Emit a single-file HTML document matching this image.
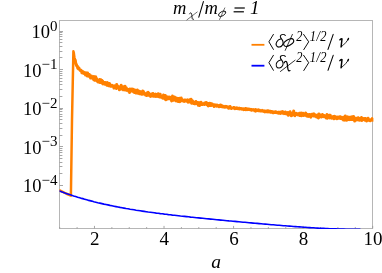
<!DOCTYPE html>
<html><head><meta charset="utf-8"><title>plot</title>
<style>
html,body{margin:0;padding:0;background:#fff;}
body{width:382px;height:273px;overflow:hidden;font-family:"Liberation Serif",serif;}
svg{display:block;transform:translateZ(0);will-change:transform;}
text{font-family:"Liberation Serif",serif;fill:#000;}
.n{font-size:18.5px;}
.nx{font-size:19px;}
.sup{font-size:15px;}
.i{font-style:italic;font-size:18.5px;}
.is{font-style:italic;font-size:14.5px;}
.ih{font-style:italic;font-size:14.5px;letter-spacing:0.5px;}
.ts{font-style:italic;font-size:13px;}
</style></head>
<body>
<svg width="382" height="273" viewBox="0 0 382 273">
<rect x="0" y="0" width="382" height="273" fill="#fff"/>
<defs><clipPath id="c"><rect x="59.5" y="20.5" width="313.9" height="208.6"/></clipPath></defs>
<rect x="59.5" y="20.5" width="313.0" height="208.0" fill="none" stroke="#b6b6b6" stroke-width="1"/>
<g stroke="#969696" stroke-width="0.85"><line x1="59.50" y1="31.50" x2="63.00" y2="31.50"/><line x1="59.50" y1="57.50" x2="62.40" y2="57.50"/><line x1="59.50" y1="51.50" x2="62.40" y2="51.50"/><line x1="59.50" y1="46.50" x2="62.40" y2="46.50"/><line x1="59.50" y1="42.50" x2="62.40" y2="42.50"/><line x1="59.50" y1="39.50" x2="62.40" y2="39.50"/><line x1="59.50" y1="36.50" x2="62.40" y2="36.50"/><line x1="59.50" y1="34.50" x2="62.40" y2="34.50"/><line x1="59.50" y1="32.50" x2="62.40" y2="32.50"/><line x1="59.50" y1="69.50" x2="63.00" y2="69.50"/><line x1="59.50" y1="96.50" x2="62.40" y2="96.50"/><line x1="59.50" y1="89.50" x2="62.40" y2="89.50"/><line x1="59.50" y1="84.50" x2="62.40" y2="84.50"/><line x1="59.50" y1="81.50" x2="62.40" y2="81.50"/><line x1="59.50" y1="78.50" x2="62.40" y2="78.50"/><line x1="59.50" y1="75.50" x2="62.40" y2="75.50"/><line x1="59.50" y1="73.50" x2="62.40" y2="73.50"/><line x1="59.50" y1="71.50" x2="62.40" y2="71.50"/><line x1="59.50" y1="108.50" x2="63.00" y2="108.50"/><line x1="59.50" y1="135.50" x2="62.40" y2="135.50"/><line x1="59.50" y1="128.50" x2="62.40" y2="128.50"/><line x1="59.50" y1="123.50" x2="62.40" y2="123.50"/><line x1="59.50" y1="119.50" x2="62.40" y2="119.50"/><line x1="59.50" y1="116.50" x2="62.40" y2="116.50"/><line x1="59.50" y1="114.50" x2="62.40" y2="114.50"/><line x1="59.50" y1="111.50" x2="62.40" y2="111.50"/><line x1="59.50" y1="109.50" x2="62.40" y2="109.50"/><line x1="59.50" y1="146.50" x2="63.00" y2="146.50"/><line x1="59.50" y1="173.50" x2="62.40" y2="173.50"/><line x1="59.50" y1="166.50" x2="62.40" y2="166.50"/><line x1="59.50" y1="162.50" x2="62.40" y2="162.50"/><line x1="59.50" y1="158.50" x2="62.40" y2="158.50"/><line x1="59.50" y1="155.50" x2="62.40" y2="155.50"/><line x1="59.50" y1="152.50" x2="62.40" y2="152.50"/><line x1="59.50" y1="150.50" x2="62.40" y2="150.50"/><line x1="59.50" y1="148.50" x2="62.40" y2="148.50"/><line x1="59.50" y1="185.50" x2="63.00" y2="185.50"/><line x1="59.70" y1="228.50" x2="59.70" y2="227.10"/><line x1="77.09" y1="228.50" x2="77.09" y2="227.10"/><line x1="94.48" y1="228.50" x2="94.48" y2="225.90"/><line x1="111.87" y1="228.50" x2="111.87" y2="227.10"/><line x1="129.26" y1="228.50" x2="129.26" y2="227.10"/><line x1="146.64" y1="228.50" x2="146.64" y2="227.10"/><line x1="164.03" y1="228.50" x2="164.03" y2="225.90"/><line x1="181.42" y1="228.50" x2="181.42" y2="227.10"/><line x1="198.81" y1="228.50" x2="198.81" y2="227.10"/><line x1="216.20" y1="228.50" x2="216.20" y2="227.10"/><line x1="233.59" y1="228.50" x2="233.59" y2="225.90"/><line x1="250.98" y1="228.50" x2="250.98" y2="227.10"/><line x1="268.37" y1="228.50" x2="268.37" y2="227.10"/><line x1="285.76" y1="228.50" x2="285.76" y2="227.10"/><line x1="303.14" y1="228.50" x2="303.14" y2="225.90"/><line x1="320.53" y1="228.50" x2="320.53" y2="227.10"/><line x1="337.92" y1="228.50" x2="337.92" y2="227.10"/><line x1="355.31" y1="228.50" x2="355.31" y2="227.10"/><line x1="372.70" y1="228.50" x2="372.70" y2="225.90"/></g>
<g clip-path="url(#c)" fill="none" stroke-linejoin="round" stroke-linecap="round">
<path d="M59.3,190.2 L66.0,193.5 L70.9,195.7 L72.0,120.0 L73.4,51.2 L73.8,52.7 L74.1,55.1 L74.4,57.2 L74.7,58.7 L75.0,59.8 L75.3,61.1 L75.6,62.7 L75.9,63.7 L76.2,64.7 L76.5,65.1 L76.8,65.8" stroke="#ff8000" stroke-width="2.5"/>
<path d="M75.0,59.8 L75.3,61.1 L75.6,62.7 L75.9,63.7 L76.2,64.7 L76.5,65.1 L76.8,65.8 L77.1,66.4 L77.4,66.3 L77.7,67.9 L78.0,68.4 L78.3,68.7 L78.6,67.8 L78.9,68.0 L79.2,68.7 L79.5,69.2 L79.8,69.9 L80.1,69.9 L80.4,70.5 L80.7,70.0 L81.0,70.9 L81.3,71.2 L81.6,70.7 L81.9,72.7 L82.2,72.1 L82.5,72.9 L82.8,71.6 L83.1,71.7 L83.4,72.2 L83.7,72.6 L84.0,73.5 L84.3,73.3 L84.6,72.8 L84.9,72.5 L85.2,73.1 L85.5,74.9 L85.8,73.1 L86.1,74.3 L86.4,74.6 L86.7,73.0 L87.0,74.6 L87.3,76.0 L87.6,73.0 L87.9,74.8 L88.2,75.1 L88.5,74.6 L88.8,76.1 L89.1,75.7 L89.4,74.5 L89.7,76.9 L90.0,76.9 L90.3,77.4 L90.6,78.0 L90.9,77.2 L91.2,77.1 L91.5,76.0 L91.8,78.0 L92.1,77.0 L92.4,77.3 L92.7,76.7 L93.0,77.2 L93.3,77.7 L93.6,79.6 L93.9,76.6 L94.2,77.3 L94.5,79.0 L94.8,80.3 L95.1,79.6 L95.4,77.4 L95.7,76.9 L96.0,79.8 L96.3,78.9 L96.6,78.7 L96.9,80.8 L97.2,81.1 L97.5,80.3 L97.8,80.5 L98.1,80.8 L98.4,82.1 L98.7,81.3 L99.0,81.3 L99.3,81.5 L99.6,79.6 L99.9,82.5 L100.2,82.3 L100.5,82.0 L100.8,79.7 L101.1,81.1 L101.4,82.6 L101.7,80.2 L102.0,81.8 L102.3,83.1 L102.6,81.0 L102.9,83.9 L103.2,83.0 L103.5,82.4 L103.8,83.0 L104.1,83.4 L104.4,83.0 L104.7,84.1 L105.0,82.4 L105.3,82.8 L105.6,84.3 L105.9,83.4 L106.2,82.7 L106.5,84.5 L106.8,85.1 L107.1,83.4 L107.4,82.6 L107.7,83.9 L108.0,84.0 L108.3,84.0 L108.6,85.7 L108.9,83.5 L109.2,85.8 L109.5,83.5 L109.8,84.0 L110.1,85.5 L110.4,86.1 L110.7,85.9 L111.0,85.5 L111.3,85.4 L111.6,85.5 L111.9,86.1 L112.2,85.4 L112.5,86.0 L112.8,86.4 L113.1,85.9 L113.4,86.7 L113.7,86.6 L114.0,88.1 L114.3,86.5 L114.6,85.9 L114.9,86.0 L115.2,86.4 L115.5,87.4 L115.8,86.3 L116.1,87.0 L116.4,88.5 L116.7,84.4 L117.0,85.8 L117.3,87.2 L117.6,87.4 L117.9,87.3 L118.2,86.7 L118.5,87.8 L118.8,87.6 L119.1,86.9 L119.4,89.8 L119.7,87.9 L120.0,87.1 L120.3,87.6 L120.6,87.5 L120.9,87.7 L121.2,85.3 L121.5,87.5 L121.8,89.0 L122.1,87.0 L122.4,88.1 L122.7,89.1 L123.0,89.1 L123.3,89.8 L123.6,86.8 L123.9,88.2 L124.2,88.3 L124.5,89.3 L124.8,89.8 L125.1,86.3 L125.4,89.9 L125.7,87.6 L126.0,89.7 L126.3,87.7 L126.6,89.3 L126.9,90.4 L127.2,89.2 L127.5,89.6 L127.8,90.2 L128.1,89.7 L128.4,89.5 L128.7,91.1 L129.0,90.8 L129.3,89.6 L129.6,92.5 L129.9,88.9 L130.2,90.9 L130.5,89.9 L130.8,90.3 L131.1,90.9 L131.4,90.5 L131.7,91.0 L132.0,89.0 L132.3,89.1 L132.6,91.2 L132.9,89.8 L133.2,89.8 L133.5,89.4 L133.8,92.1 L134.1,91.7 L134.4,92.5 L134.7,90.2 L135.0,91.2 L135.3,90.2 L135.6,92.1 L135.9,92.9 L136.2,90.6 L136.5,93.0 L136.8,92.6 L137.1,91.5 L137.4,89.9 L137.7,93.2 L138.0,91.8 L138.3,91.4 L138.6,92.5 L138.9,92.5 L139.2,93.6 L139.5,91.3 L139.8,93.4 L140.1,93.8 L140.4,93.9 L140.7,92.4 L141.0,91.9 L141.3,93.7 L141.6,92.9 L141.9,93.0 L142.2,94.3 L142.5,92.8 L142.8,90.9 L143.1,92.8 L143.4,91.5 L143.7,94.1 L144.0,93.7 L144.3,92.9 L144.6,93.5 L144.9,94.4 L145.2,93.7 L145.5,95.0 L145.8,93.7 L146.1,94.9 L146.4,95.4 L146.7,95.5 L147.0,93.4 L147.3,95.0 L147.6,92.4 L147.9,93.2 L148.2,92.4 L148.5,95.3 L148.8,93.2 L149.1,94.4 L149.4,94.3 L149.7,94.5 L150.0,94.0 L150.3,94.9 L150.6,96.4 L150.9,94.8 L151.2,95.3 L151.5,95.8 L151.8,94.7 L152.1,93.8 L152.4,94.5 L152.7,96.1 L153.0,93.6 L153.3,94.6 L153.6,96.2 L153.9,96.0 L154.2,95.3 L154.5,96.2 L154.8,95.6 L155.1,94.4 L155.4,94.1 L155.7,95.0 L156.0,96.5 L156.3,95.2 L156.6,94.9 L156.9,95.1 L157.2,94.4 L157.5,95.8 L157.8,94.8 L158.1,96.4 L158.4,93.8 L158.7,96.4 L159.0,95.6 L159.3,94.4 L159.6,97.0 L159.9,96.1 L160.2,94.3 L160.5,95.6 L160.8,96.8 L161.1,96.1 L161.4,97.3 L161.7,97.4 L162.0,97.3 L162.3,97.1 L162.6,98.1 L162.9,97.5 L163.2,97.3 L163.5,95.0 L163.8,97.9 L164.1,98.3 L164.4,96.8 L164.7,96.7 L165.0,99.1 L165.3,95.6 L165.6,97.8 L165.9,99.7 L166.2,96.6 L166.5,98.2 L166.8,99.3 L167.1,97.5 L167.4,98.2 L167.7,98.6 L168.0,96.9 L168.3,97.7 L168.6,98.1 L168.9,98.7 L169.2,97.9 L169.5,97.8 L169.8,97.1 L170.1,97.8 L170.4,99.0 L170.7,98.3 L171.0,97.5 L171.3,97.5 L171.6,100.9 L171.9,99.5 L172.2,99.1 L172.5,96.1 L172.8,99.2 L173.1,99.1 L173.4,100.3 L173.7,99.2 L174.0,98.8 L174.3,99.4 L174.6,97.1 L174.9,100.0 L175.2,99.3 L175.5,98.4 L175.8,100.4 L176.1,100.9 L176.4,97.9 L176.7,98.7 L177.0,99.6 L177.3,99.6 L177.6,99.1 L177.9,98.6 L178.2,101.6 L178.5,100.6 L178.8,98.5 L179.1,98.4 L179.4,101.4 L179.7,100.8 L180.0,101.6 L180.3,100.7 L180.6,99.1 L180.9,100.3 L181.2,98.0 L181.5,99.4 L181.8,100.1 L182.1,100.7 L182.4,99.6 L182.7,100.2 L183.0,100.8 L183.3,100.8 L183.6,101.1 L183.9,100.7 L184.2,100.3 L184.5,101.4 L184.8,100.7 L185.1,100.0 L185.4,100.2 L185.7,100.8 L186.0,100.8 L186.3,101.1 L186.6,101.0 L186.9,101.2 L187.2,101.0 L187.5,99.9 L187.8,101.6 L188.1,102.2 L188.4,101.7 L188.7,101.1 L189.0,101.8 L189.3,100.5 L189.6,99.7 L189.9,101.6 L190.2,100.7 L190.5,102.3 L190.8,100.6 L191.1,99.2 L191.4,100.8 L191.7,103.3 L192.0,101.5 L192.3,100.6 L192.6,101.2 L192.9,102.5 L193.2,102.5 L193.5,102.3 L193.8,103.6 L194.1,102.9 L194.4,102.2 L194.7,102.9 L195.0,103.9 L195.3,103.3 L195.6,103.4 L195.9,101.5 L196.2,102.4 L196.5,103.3 L196.8,102.4 L197.1,103.7 L197.4,103.3 L197.7,103.6 L198.0,102.6 L198.3,105.3 L198.6,104.1 L198.9,102.8 L199.2,103.1 L199.5,105.5 L199.8,102.8 L200.1,104.0 L200.4,104.1 L200.7,103.3 L201.0,102.2 L201.3,103.5 L201.6,103.7 L201.9,104.5 L202.2,104.2 L202.5,103.6 L202.8,104.4 L203.1,104.1 L203.4,103.9 L203.7,103.8 L204.0,103.6 L204.3,104.5 L204.6,103.0 L204.9,103.4 L205.2,104.0 L205.5,102.8 L205.8,103.7 L206.1,102.5 L206.4,103.6 L206.7,104.7 L207.0,104.8 L207.3,104.3 L207.6,104.2 L207.9,103.3 L208.2,105.9 L208.5,104.9 L208.8,105.4 L209.1,103.9 L209.4,104.5 L209.7,103.3 L210.0,105.4 L210.3,105.5 L210.6,103.4 L210.9,104.9 L211.2,105.4 L211.5,103.7 L211.8,103.7 L212.1,104.3 L212.4,104.7 L212.7,104.2 L213.0,105.3 L213.3,105.5 L213.6,105.8 L213.9,105.9 L214.2,106.5 L214.5,106.3 L214.8,104.7 L215.1,105.3 L215.4,105.0 L215.7,105.0 L216.0,105.7 L216.3,105.8 L216.6,106.2 L216.9,104.9 L217.2,105.2 L217.5,106.0 L217.8,105.9 L218.1,105.9 L218.4,106.1 L218.7,105.7 L219.0,106.7 L219.3,106.5 L219.6,106.3 L219.9,106.0 L220.2,106.3 L220.5,104.9 L220.8,105.9 L221.1,106.5 L221.4,105.7 L221.7,106.7 L222.0,106.7 L222.3,105.9 L222.6,106.5 L222.9,106.5 L223.2,107.0 L223.5,107.1 L223.8,106.8 L224.1,106.4 L224.4,106.8 L224.7,106.9 L225.0,107.3 L225.3,107.1 L225.6,106.7 L225.9,106.4 L226.2,106.9 L226.5,106.8 L226.8,106.6 L227.1,107.1 L227.4,107.0 L227.7,107.3 L228.0,107.5 L228.3,107.1 L228.6,108.3 L228.9,107.2 L229.2,107.8 L229.5,107.5 L229.8,107.9 L230.1,106.5 L230.4,107.2 L230.7,107.6 L231.0,107.8 L231.3,108.5 L231.6,107.8 L231.9,108.1 L232.2,108.0 L232.5,108.1 L232.8,107.9 L233.1,107.7 L233.4,108.0 L233.7,107.5 L234.0,108.3 L234.3,107.6 L234.6,108.0 L234.9,108.6 L235.2,108.0 L235.5,108.1 L235.8,108.4 L236.1,108.1 L236.4,107.9 L236.7,108.3 L237.0,108.4 L237.3,108.5 L237.6,108.0 L237.9,108.8 L238.2,108.8 L238.5,108.4 L238.8,108.5 L239.1,108.3 L239.4,108.9 L239.7,108.3 L240.0,108.7 L240.3,108.4 L240.6,108.4 L240.9,108.9 L241.2,109.1 L241.5,108.7 L241.8,108.5 L242.1,109.0 L242.4,108.8 L242.7,108.9 L243.0,109.3 L243.3,109.2 L243.6,108.8 L243.9,109.7 L244.2,109.0 L244.5,109.3 L244.8,108.8 L245.1,109.1 L245.4,108.6 L245.7,109.7 L246.0,109.6 L246.3,108.8 L246.6,108.8 L246.9,108.8 L247.2,109.7 L247.5,109.2 L247.8,109.3 L248.1,109.3 L248.4,109.4 L248.7,109.1 L249.0,109.5 L249.3,109.1 L249.6,109.5 L249.9,109.7 L250.2,109.8 L250.5,109.6 L250.8,109.4 L251.1,109.8 L251.4,109.6 L251.7,110.3 L252.0,110.1 L252.3,109.8 L252.6,109.7 L252.9,109.7 L253.2,109.6 L253.5,109.9 L253.8,110.1 L254.1,110.2 L254.4,110.2 L254.7,110.8 L255.0,109.9 L255.3,110.2 L255.6,111.1 L255.9,109.6 L256.2,110.1 L256.5,110.3 L256.8,110.4 L257.1,110.5 L257.4,110.3 L257.7,110.5 L258.0,110.5 L258.3,110.7 L258.6,109.9 L258.9,110.2 L259.2,110.6 L259.5,110.3 L259.8,110.3 L260.1,110.9 L260.4,110.5 L260.7,110.9 L261.0,111.0 L261.3,110.9 L261.6,111.0 L261.9,110.8 L262.2,110.4 L262.5,110.9 L262.8,111.1 L263.1,110.8 L263.4,111.0 L263.7,111.3 L264.0,110.8 L264.3,111.3 L264.6,111.8 L264.9,111.0 L265.2,111.2 L265.5,111.2 L265.8,111.8 L266.1,111.4 L266.4,111.6 L266.7,111.1 L267.0,111.4 L267.3,111.4 L267.6,110.8 L267.9,112.0 L268.2,111.8 L268.5,110.9 L268.8,111.8 L269.1,111.6 L269.4,111.8 L269.7,111.8 L270.0,111.2 L270.3,111.7 L270.6,112.3 L270.9,111.6 L271.2,111.5 L271.5,111.4 L271.8,111.5 L272.1,112.0 L272.4,112.5 L272.7,112.1 L273.0,112.1 L273.3,112.8 L273.6,111.9 L273.9,111.9 L274.2,112.3 L274.5,112.4 L274.8,111.9 L275.1,111.8 L275.4,112.4 L275.7,112.4 L276.0,111.8 L276.3,112.3 L276.6,112.2 L276.9,112.6 L277.2,112.4 L277.5,112.4 L277.8,112.3 L278.1,113.0 L278.4,113.2 L278.7,112.4 L279.0,113.0 L279.3,112.2 L279.6,112.7 L279.9,113.0 L280.2,113.5 L280.5,112.5 L280.8,112.7 L281.1,112.9 L281.4,111.9 L281.7,112.8 L282.0,112.4 L282.3,113.1 L282.6,112.2 L282.9,111.7 L283.2,112.9 L283.5,113.1 L283.8,112.6 L284.1,113.6 L284.4,112.8 L284.7,112.6 L285.0,113.4 L285.3,112.0 L285.6,112.6 L285.9,113.1 L286.2,113.8 L286.5,113.1 L286.8,113.4 L287.1,112.7 L287.4,113.5 L287.7,114.6 L288.0,112.8 L288.3,115.2 L288.6,112.8 L288.9,113.4 L289.2,113.5 L289.5,114.3 L289.8,112.4 L290.1,111.7 L290.4,114.0 L290.7,114.2 L291.0,114.1 L291.3,115.8 L291.6,113.8 L291.9,113.8 L292.2,114.4 L292.5,114.0 L292.8,115.1 L293.1,112.7 L293.4,113.4 L293.7,111.0 L294.0,114.5 L294.3,113.5 L294.6,114.6 L294.9,115.7 L295.2,113.9 L295.5,113.7 L295.8,113.5 L296.1,113.2 L296.4,113.4 L296.7,114.5 L297.0,114.1 L297.3,114.1 L297.6,113.9 L297.9,114.9 L298.2,114.5 L298.5,114.0 L298.8,114.7 L299.1,114.1 L299.4,113.2 L299.7,115.5 L300.0,114.7 L300.3,113.5 L300.6,115.2 L300.9,114.6 L301.2,113.0 L301.5,115.8 L301.8,114.7 L302.1,115.2 L302.4,114.6 L302.7,114.4 L303.0,113.2 L303.3,115.4 L303.6,114.6 L303.9,114.3 L304.2,114.9 L304.5,114.7 L304.8,115.2 L305.1,114.4 L305.4,114.7 L305.7,112.9 L306.0,114.4 L306.3,115.3 L306.6,115.9 L306.9,114.5 L307.2,114.7 L307.5,116.2 L307.8,114.6 L308.1,115.5 L308.4,116.4 L308.7,115.0 L309.0,116.0 L309.3,114.4 L309.6,115.2 L309.9,115.0 L310.2,115.2 L310.5,116.1 L310.8,117.2 L311.1,114.6 L311.4,114.7 L311.7,115.6 L312.0,114.3 L312.3,115.7 L312.6,115.8 L312.9,115.1 L313.2,115.8 L313.5,114.0 L313.8,116.0 L314.1,114.1 L314.4,114.8 L314.7,115.0 L315.0,115.1 L315.3,116.3 L315.6,115.6 L315.9,115.2 L316.2,116.1 L316.5,117.0 L316.8,115.7 L317.1,116.0 L317.4,116.8 L317.7,116.0 L318.0,114.7 L318.3,117.9 L318.6,117.7 L318.9,114.1 L319.2,115.8 L319.5,116.3 L319.8,116.8 L320.1,116.5 L320.4,115.7 L320.7,115.1 L321.0,116.1 L321.3,117.0 L321.6,115.1 L321.9,115.2 L322.2,116.1 L322.5,114.5 L322.8,116.0 L323.1,115.9 L323.4,116.7 L323.7,115.7 L324.0,115.6 L324.3,116.0 L324.6,116.3 L324.9,115.8 L325.2,116.4 L325.5,117.1 L325.8,117.5 L326.1,118.0 L326.4,115.9 L326.7,116.2 L327.0,114.4 L327.3,118.3 L327.6,116.0 L327.9,116.7 L328.2,117.2 L328.5,115.5 L328.8,117.2 L329.1,116.8 L329.4,115.2 L329.7,117.1 L330.0,117.9 L330.3,115.3 L330.6,117.6 L330.9,117.1 L331.2,117.4 L331.5,117.4 L331.8,118.2 L332.1,116.9 L332.4,117.9 L332.7,116.8 L333.0,117.8 L333.3,116.5 L333.6,117.1 L333.9,118.8 L334.2,117.7 L334.5,117.2 L334.8,116.3 L335.1,116.7 L335.4,117.5 L335.7,118.2 L336.0,117.8 L336.3,117.9 L336.6,117.4 L336.9,118.7 L337.2,117.2 L337.5,117.1 L337.8,118.4 L338.1,117.7 L338.4,117.4 L338.7,117.2 L339.0,117.5 L339.3,118.3 L339.6,118.1 L339.9,116.7 L340.2,118.2 L340.5,118.0 L340.8,117.0 L341.1,118.6 L341.4,117.7 L341.7,117.6 L342.0,118.6 L342.3,119.1 L342.6,117.4 L342.9,118.4 L343.2,117.3 L343.5,120.1 L343.8,117.6 L344.1,119.2 L344.4,117.6 L344.7,118.9 L345.0,120.1 L345.3,115.9 L345.6,117.8 L345.9,118.7 L346.2,118.2 L346.5,117.7 L346.8,120.2 L347.1,118.4 L347.4,116.9 L347.7,119.1 L348.0,116.9 L348.3,119.4 L348.6,117.9 L348.9,118.6 L349.2,119.6 L349.5,118.6 L349.8,117.3 L350.1,117.0 L350.4,119.6 L350.7,119.2 L351.0,117.9 L351.3,119.4 L351.6,119.1 L351.9,119.3 L352.2,116.7 L352.5,118.5 L352.8,119.5 L353.1,119.4 L353.4,119.6 L353.7,116.6 L354.0,119.0 L354.3,119.3 L354.6,121.1 L354.9,118.1 L355.2,118.6 L355.5,119.0 L355.8,119.8 L356.1,118.6 L356.4,120.0 L356.7,118.3 L357.0,119.3 L357.3,118.6 L357.6,119.2 L357.9,118.5 L358.2,117.7 L358.5,120.1 L358.8,119.5 L359.1,118.7 L359.4,119.4 L359.7,120.1 L360.0,118.4 L360.3,119.2 L360.6,119.8 L360.9,119.8 L361.2,119.1 L361.5,117.5 L361.8,120.5 L362.1,119.7 L362.4,119.5 L362.7,119.2 L363.0,119.7 L363.3,119.1 L363.6,118.6 L363.9,118.9 L364.2,119.1 L364.5,119.1 L364.8,118.6 L365.1,120.2 L365.4,118.5 L365.7,120.3 L366.0,118.8 L366.3,120.1 L366.6,121.0 L366.9,120.0 L367.2,119.2 L367.5,119.9 L367.8,120.0 L368.1,118.3 L368.4,119.4 L368.7,120.1 L369.0,119.5 L369.3,120.0 L369.6,120.6 L369.9,120.7 L370.2,120.8 L370.5,120.6 L370.8,119.8 L371.1,120.1 L371.4,119.9 L371.7,119.9 L372.0,120.0 L372.3,118.6 L372.6,119.9 L372.9,120.2 L373.2,119.4 L373.5,120.2" stroke="#ff8000" stroke-width="3"/>
<path d="M59.5,191.0 L61.5,191.7 L63.5,192.4 L65.6,193.2 L67.6,193.9 L69.6,194.6 L71.6,195.2 L73.6,195.9 L75.6,196.5 L77.7,197.2 L79.7,197.8 L81.7,198.4 L83.7,198.9 L85.7,199.5 L87.7,200.1 L89.8,200.6 L91.8,201.1 L93.8,201.7 L95.8,202.2 L97.8,202.7 L99.8,203.1 L101.9,203.6 L103.9,204.1 L105.9,204.5 L107.9,204.9 L109.9,205.4 L111.9,205.8 L114.0,206.2 L116.0,206.6 L118.0,207.0 L120.0,207.4 L122.0,207.7 L124.0,208.1 L126.1,208.5 L128.1,208.8 L130.1,209.2 L132.1,209.5 L134.1,209.8 L136.1,210.2 L138.2,210.5 L140.2,210.8 L142.2,211.1 L144.2,211.4 L146.2,211.7 L148.2,212.0 L150.3,212.2 L152.3,212.5 L154.3,212.8 L156.3,213.1 L158.3,213.3 L160.3,213.6 L162.4,213.8 L164.4,214.1 L166.4,214.3 L168.4,214.6 L170.4,214.8 L172.4,215.1 L174.5,215.3 L176.5,215.5 L178.5,215.7 L180.5,216.0 L182.5,216.2 L184.5,216.4 L186.6,216.6 L188.6,216.8 L190.6,217.1 L192.6,217.3 L194.6,217.5 L196.6,217.7 L198.7,217.9 L200.7,218.1 L202.7,218.3 L204.7,218.5 L206.7,218.7 L208.7,218.9 L210.8,219.1 L212.8,219.3 L214.8,219.5 L216.8,219.7 L218.8,219.9 L220.8,220.1 L222.9,220.3 L224.9,220.5 L226.9,220.7 L228.9,220.9 L230.9,221.0 L232.9,221.2 L235.0,221.4 L237.0,221.6 L239.0,221.8 L241.0,222.0 L243.0,222.2 L245.0,222.3 L247.1,222.5 L249.1,222.7 L251.1,222.9 L253.1,223.1 L255.1,223.3 L257.1,223.4 L259.2,223.6 L261.2,223.8 L263.2,224.0 L265.2,224.1 L267.2,224.3 L269.2,224.5 L271.3,224.7 L273.3,224.8 L275.3,225.0 L277.3,225.2 L279.3,225.3 L281.3,225.5 L283.4,225.7 L285.4,225.8 L287.4,226.0 L289.4,226.1 L291.4,226.3 L293.4,226.5 L295.5,226.6 L297.5,226.8 L299.5,226.9 L301.5,227.0 L303.5,227.2 L305.5,227.3 L307.6,227.5 L309.6,227.6 L311.6,227.7 L313.6,227.8 L315.6,228.0 L317.6,228.1 L319.7,228.2 L321.7,228.3 L323.7,228.4 L325.7,228.5 L327.7,228.6 L329.7,228.7 L331.8,228.8 L333.8,228.8 L335.8,228.9 L337.8,229.0 L339.8,229.0 L341.8,229.1 L343.9,229.1 L345.9,229.2 L347.9,229.2 L349.9,229.2 L351.9,229.3 L353.9,229.3 L356.0,229.3 L358.0,229.3 L360.0,229.3" stroke="#0000ff" stroke-width="1.6"/>
</g>
<text x="57.5" y="38.0" text-anchor="end" class="n">10<tspan class="sup" dy="-7.5">0</tspan></text><text x="57.5" y="76.6" text-anchor="end" class="n">10<tspan class="sup" dy="-7.5">−1</tspan></text><text x="57.5" y="115.2" text-anchor="end" class="n">10<tspan class="sup" dy="-7.5">−2</tspan></text><text x="57.5" y="153.8" text-anchor="end" class="n">10<tspan class="sup" dy="-7.5">−3</tspan></text><text x="57.5" y="192.4" text-anchor="end" class="n">10<tspan class="sup" dy="-7.5">−4</tspan></text>
<text x="94.8" y="245" text-anchor="middle" class="nx">2</text><text x="164.3" y="245" text-anchor="middle" class="nx">4</text><text x="233.9" y="245" text-anchor="middle" class="nx">6</text><text x="303.4" y="245" text-anchor="middle" class="nx">8</text><text x="373.0" y="245" text-anchor="middle" class="nx">10</text>
<text x="216" y="268.1" text-anchor="middle" class="i" style="font-size:19.5px">a</text>
<!-- title -->
<text x="173" y="14.1" class="i">m</text>
<g transform="translate(186.9,19.9) scale(0.70) translate(-280.4,-71.5)" fill="none" stroke="#000" stroke-linecap="round" stroke-linejoin="round">
<line x1="280.4" y1="71.5" x2="295.1" y2="60.2" stroke-width="0.8"/>
<path d="M284.2,62.8 C284.7,61.4 286,61 286.7,62 C287.6,63.4 287.5,67 287.9,69 C288.2,70.7 289,71.4 290,70.6" stroke-width="1.25"/>
</g>
<line x1="198.8" y1="17.2" x2="203.4" y2="1.6" stroke="#000" stroke-width="1.05" stroke-linecap="round"/>
<text x="204.4" y="14.1" class="i">m</text>
<g transform="translate(222.1,13.8) scale(0.72) translate(-288.7,-42.55)" fill="none" stroke="#000" stroke-linecap="round" stroke-linejoin="round">
<ellipse cx="288.7" cy="42.55" rx="5.5" ry="2.9" transform="rotate(-30 288.7 42.55)" stroke-width="1.1"/>
<line x1="292.4" y1="34.4" x2="285.2" y2="50.4" stroke-width="0.8"/>
</g>
<g stroke="#000" stroke-width="1.2"><line x1="234.5" y1="8" x2="244.8" y2="8"/><line x1="233.6" y1="11.8" x2="243.9" y2="11.8"/></g>
<text x="250.0" y="14.3" class="i" style="font-size:19px">1</text>
<!-- legend -->
<line x1="251.5" y1="44.8" x2="264.4" y2="44.8" stroke="#ff8000" stroke-width="1.8"/>
<line x1="251.5" y1="65.7" x2="264.4" y2="65.7" stroke="#0000ff" stroke-width="1.8"/>
<g fill="none" stroke="#000" stroke-linecap="round" stroke-linejoin="round">
<polyline points="273.4,34.4 268.9,41.8 273.4,49.4" stroke-width="0.95"/>
<polyline points="303.6,34.4 308.7,41.8 303.8,49.6" stroke-width="0.95"/>
<path d="M285.3,35.5 C284.3,34.4 282.2,34.2 281,35.1 C279.8,36.1 280.4,37.6 281.5,38.9 C283.1,40.8 283.6,43.3 282.2,45.4 C280.7,47.6 277.5,47.7 276.4,45.5 C275.3,43.1 277.3,39.8 280.6,39.1" stroke-width="1.05"/>
<line x1="333.2" y1="34.4" x2="328" y2="49.4" stroke-width="1.05"/>
<path d="M339.9,39.8 C340.5,38.8 341.4,38.5 342,38.8 L341.1,46.8" stroke-width="1.45"/><path d="M341.1,46.9 C344.6,44.2 347.6,41 348.4,38.6" stroke-width="0.85"/><path d="M347.8,40 L348.5,38.4" stroke-width="1.3"/>
</g>
<g transform="translate(0,20.9)" fill="none" stroke="#000" stroke-linecap="round" stroke-linejoin="round">
<polyline points="273.4,34.4 268.9,41.8 273.4,49.4" stroke-width="0.95"/>
<polyline points="303.6,34.4 308.7,41.8 303.8,49.6" stroke-width="0.95"/>
<path d="M285.3,35.5 C284.3,34.4 282.2,34.2 281,35.1 C279.8,36.1 280.4,37.6 281.5,38.9 C283.1,40.8 283.6,43.3 282.2,45.4 C280.7,47.6 277.5,47.7 276.4,45.5 C275.3,43.1 277.3,39.8 280.6,39.1" stroke-width="1.05"/>
<line x1="333.2" y1="34.4" x2="328" y2="49.4" stroke-width="1.05"/>
<path d="M339.9,39.8 C340.5,38.8 341.4,38.5 342,38.8 L341.1,46.8" stroke-width="1.45"/><path d="M341.1,46.9 C344.6,44.2 347.6,41 348.4,38.6" stroke-width="0.85"/><path d="M347.8,40 L348.5,38.4" stroke-width="1.3"/>
</g>
<g fill="none" stroke="#000" stroke-linecap="round">
<ellipse cx="288.7" cy="42.55" rx="5.5" ry="2.9" transform="rotate(-30 288.7 42.55)" stroke-width="1.1"/>
<line x1="292.4" y1="34.4" x2="285.2" y2="50.4" stroke-width="0.8"/>
</g>
<g fill="none" stroke="#000" stroke-linecap="round">
<line x1="280.4" y1="71.5" x2="295.1" y2="60.2" stroke-width="0.8"/>
<path d="M284.2,62.8 C284.7,61.4 286,61 286.7,62 C287.6,63.4 287.5,67 287.9,69 C288.2,70.7 289,71.4 290,70.6" stroke-width="1.25"/>
</g>
<text transform="translate(296.3,40.8) scale(0.86,1)" class="is">2</text>
<text transform="translate(309.8,40.6) scale(0.86,1)" class="ih">1/2</text>
<text transform="translate(296.3,61.7) scale(0.86,1)" class="is">2</text>
<text transform="translate(309.8,61.5) scale(0.86,1)" class="ih">1/2</text>
</svg>
</body></html>
